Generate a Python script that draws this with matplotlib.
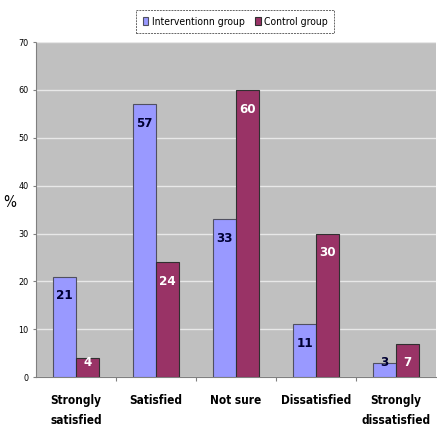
import matplotlib.pyplot as plt
import numpy as np

categories = ['Strongly\nsatisfied', 'Satisfied', 'Not sure', 'Dissatisfied', 'Strongly\ndissatisfied']
intervention = [21, 57, 33, 11, 3]
control = [4, 24, 60, 30, 7]

plt.rcParams['font.family'] = ['DejaVu Sans']
plt.rcParams['font.stretch'] = 'condensed'

fig = plt.figure(figsize=(4.37, 4.33), dpi=100)
ax = fig.add_axes([0.082, 0.129, 0.916, 0.774])
ax.set_facecolor('#c0c0c0')

x = np.arange(len(categories))
w = 0.285
b1 = ax.bar(x - w/2, intervention, w, color='#9999ff', edgecolor='#505060', linewidth=0.8,
            label='Interventionn group', zorder=3)
b2 = ax.bar(x + w/2, control, w, color='#993366', edgecolor='#303030', linewidth=0.8,
            label='Control group', zorder=3)

# labels sit a bit below the bar top, but never lower than 3
for bar, v in zip(b1, intervention):
    ax.text(bar.get_x() + bar.get_width()/2, max(v - 4, 3), str(v), ha='center', va='center',
            fontsize=9.5, fontweight='bold', color='#000033', zorder=4)
for bar, v in zip(b2, control):
    ax.text(bar.get_x() + bar.get_width()/2, max(v - 4, 3), str(v), ha='center', va='center',
            fontsize=9.5, fontweight='bold', color='white', zorder=4)

ax.set_ylim(0, 70)
ax.set_xlim(-0.5, 4.5)
ax.set_yticks(range(0, 71, 10))
ax.tick_params(axis='y', labelsize=6.5, length=2, color='#808080')
ax.set_xticks(np.arange(0.5, 4.5, 1))
ax.set_xticklabels([])
ax.tick_params(axis='x', length=3, color='#808080')
ax.set_xticks(x, minor=True)
ax.set_xticklabels(categories, minor=True, fontsize=8.5, fontweight='bold', linespacing=1.7)
ax.tick_params(axis='x', which='minor', length=0, pad=12)

ax.yaxis.grid(True, color='#e8e8e8', linewidth=1, zorder=0)
for s in ['top', 'right']:
    ax.spines[s].set_visible(False)
for s in ['left', 'bottom']:
    ax.spines[s].set_color('#808080')
    ax.spines[s].set_linestyle((0, (1, 1)))
    ax.spines[s].set_linewidth(0.8)

ax.set_ylabel('%', fontsize=11, rotation=0)
ax.yaxis.set_label_coords(-0.065, 0.5)

leg = fig.legend(loc='upper center', bbox_to_anchor=(0.538, 0.988), ncol=2, fontsize=7.5,
                 frameon=True, fancybox=False, handlelength=0.55, handleheight=0.9,
                 columnspacing=1.0, handletextpad=0.3, borderpad=0.6)
leg.get_frame().set_edgecolor('#404040')
leg.get_frame().set_linestyle((0, (2, 1)))
leg.get_frame().set_linewidth(0.7)

plt.savefig('out.png', dpi=100)
